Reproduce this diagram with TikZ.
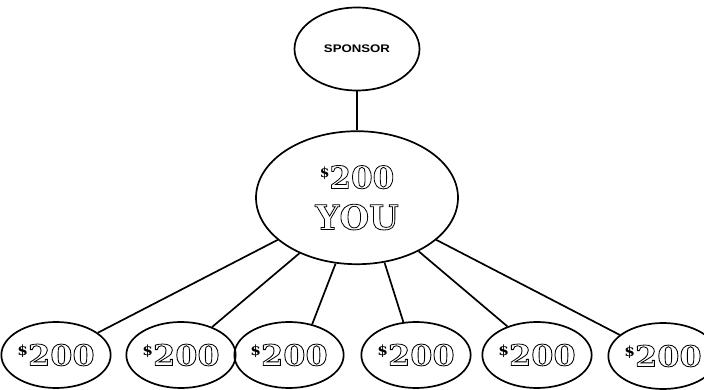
\documentclass[tikz,border=0pt]{standalone}
\usepackage{fontspec}
\setmainfont{DejaVu Serif}
\newfontfamily\capsfont{Liberation Sans}
\usetikzlibrary{positioning,shapes.geometric}

\newcommand{\hollow}[1]{\special{pdf:literal direct 1 Tr 0.8 w}{\bfseries#1}\special{pdf:literal direct 0 Tr}}
\newcommand{\dollarsign}{\raisebox{0.7ex}{\fontsize{14}{14}\selectfont\bfseries\$}}
\newcommand{\amount}{\scalebox{1.1}[1]{\fontsize{29}{29}\selectfont\dollarsign\hollow{200}}}

\begin{document}
\begin{tikzpicture}[x=1pt,y=1pt,line width=1.7pt,every node/.style={align=center},
  member/.style={draw,ellipse,inner sep=0pt,minimum width=102pt,minimum height=66pt}]
  \useasboundingbox (0,0) rectangle (704,-390);
  \node[draw,ellipse,inner sep=0pt,minimum width=125pt,minimum height=83pt] (sponsor) at (357,-49)
    {\scalebox{1.2}[1]{\capsfont\bfseries\fontsize{11}{11}\selectfont SPONSOR}};
  \node[draw,ellipse,inner sep=0pt,minimum width=202pt,minimum height=133pt,below=39pt of sponsor,
    font=\fontsize{31}{40}\selectfont] (you)
    {\dollarsign\hollow{200}\\[1pt]\hollow{\fontsize{34}{40}\selectfont YOU}};
  \node[member] (m1) at (56,-355) {\amount};
  \node[member] (m2) at (181,-355) {\amount};
  \node[member] (m3) at (289,-355) {\amount};
  \node[member] (m4) at (416,-355) {\amount};
  \node[member] (m5) at (537,-355) {\amount};
  \node[member] (m6) at (663,-356) {\amount};
  \draw (sponsor)--(you);
  \draw (you.208)--(m1.28);\draw (you.224)--(m2.42);\draw (you.252)--(m3.53);
  \draw (you.293)--(m4.111);\draw (you.319)--(m5.136);\draw (you.332)--(m6.154);
\end{tikzpicture}
\end{document}
